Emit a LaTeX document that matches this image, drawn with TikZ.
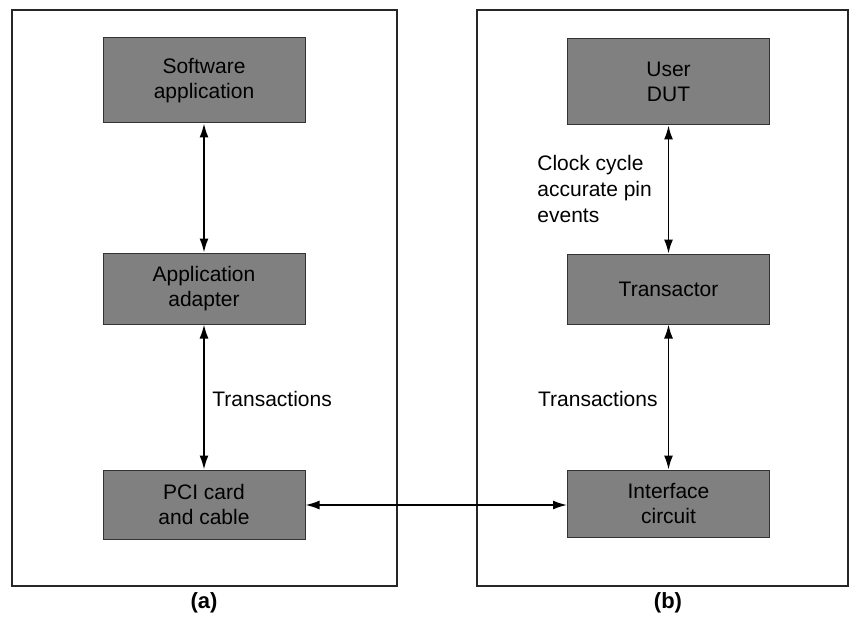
\documentclass[tikz,border=0pt]{standalone}
\usepackage{fontspec}
\setmainfont{Liberation Sans}
\usetikzlibrary{arrows.meta}
\begin{document}
\begin{tikzpicture}[x=0.5pt,y=-0.5pt,
  frame/.style={draw=black!85,line width=0.7pt},
  blk/.style={draw=black!80,line width=0.5pt,fill=black!50,minimum width=101pt,align=center,font=\fontsize{10.5}{12.5}\selectfont,inner sep=0pt},
  conn/.style={line width=0.8pt,{Latex[length=7pt,width=4.5pt]}-{Latex[length=7pt,width=4.5pt]}},
  lbl/.style={font=\fontsize{10.5}{13}\selectfont,inner sep=0pt,align=left},
  captxt/.style={font=\bfseries\fontsize{11}{12}\selectfont,inner sep=0pt}]
\useasboundingbox (0,0) rectangle (850,620);
\fill[white] (0,0) rectangle (850,620);
% frames
\draw[frame] (12,10) rectangle (397,586);
\draw[frame] (477,10) rectangle (848,586);
% blocks left
\node[blk,minimum height=42.5pt] (sw) at (204,80.5) {Software\\application};
\node[blk,minimum height=35.5pt] (aa) at (204,288.5) {Application\\adapter};
\node[blk,minimum height=34.5pt] (pci) at (204,504.5) {PCI card\\and cable};
% blocks right
\node[blk,minimum height=43pt] (dut) at (668.5,82) {User\\DUT};
\node[blk,minimum height=35pt] (tr) at (668.5,289) {Transactor};
\node[blk,minimum height=33.5pt] (ic) at (668.5,503.5) {Interface\\circuit};
% connectors
\draw[conn] (sw) -- (aa);
\draw[conn] (aa) -- (pci);
\draw[conn] (dut) -- (tr);
\draw[conn] (tr) -- (ic);
\draw[conn] (pci.east |- 0,505) -- (ic.west |- 0,505);
% labels
\node[lbl,anchor=west] (t1) at (212,399) {Transactions};
\node[lbl,anchor=east] (t2) at (658,399) {Transactions};
\node[lbl,anchor=north west] (cc) at (537,155) {Clock cycle\\accurate pin\\events};
\node[captxt] (ca) at (204,603) {(a)};
\node[captxt] (cb) at (668,603) {(b)};
\end{tikzpicture}
\end{document}
